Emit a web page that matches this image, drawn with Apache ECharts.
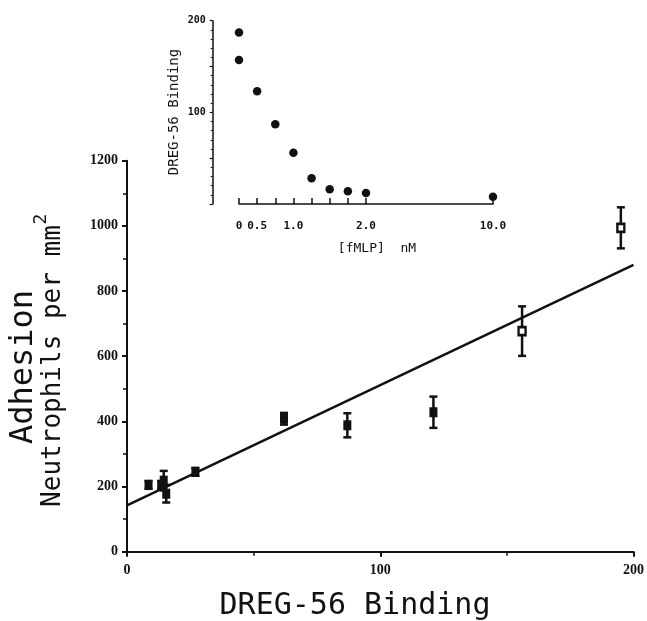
<!DOCTYPE html>
<html>
<head>
<meta charset="utf-8">
<script src="https://cdn.jsdelivr.net/npm/echarts@6/dist/echarts.min.js"></script>
<style>
html,body{margin:0;padding:0;background:#fff;}
#chart{width:647px;height:621px;}
</style>
</head>
<body>
<div id="chart"></div>
<script>
// Main chart data: DREG-56 binding vs adhesion (neutrophils per mm^2)
const mainX = [8.5, 13.5, 14.5, 15.5, 27, 62, 87, 121, 156, 195];
const mainY = [205, 205, 218, 178, 245, 408, 388, 428, 677, 994];
const mainErr = [12, 12, 30, 27, 12, 18, 37, 48, 76, 63];
const openIdx = [8, 9];
// Regression line end points
const fitX = [0, 200];
const fitY = [142, 880];
// Axis ticks
const mainXTicks = [0, 100, 200];
const mainYTicks = [0, 200, 400, 600, 800, 1000, 1200];

// Inset data: [fMLP] nM vs DREG-56 binding
const insetConc = ['0', '0', '0.5', '0.75', '1.0', '1.25', '1.5', '1.75', '2.0', '10.0'];
const insetBinding = [187, 157, 123, 87, 56, 28, 16, 14, 12, 8];
const insetCats = ['0', '0.5', '0.75', '1.0', '1.25', '1.5', '1.75', '2.0', 'g1', 'g2', 'g3', 'g4', 'g5', 'g6', '10.0'];
const insetXLabels = ['0', '0.5', '1.0', '2.0', '10.0'];
const insetYLabels = [100, 200];

const ink = '#111';
const mono = 'DejaVu Sans Mono';
const serif = 'Liberation Serif';

const chart = echarts.init(document.getElementById('chart'));

const errData = mainX.map((x, i) => [x, mainY[i], mainErr[i]]);
const filled = mainX.map((x, i) => [x, mainY[i]]).filter((d, i) => openIdx.indexOf(i) < 0);
const open = mainX.map((x, i) => [x, mainY[i]]).filter((d, i) => openIdx.indexOf(i) >= 0);

const option = {
  animation: false,
  backgroundColor: '#fff',
  grid: [
    {left: 127, right: 10.3, top: 160.7, bottom: 69.3},
    {left: 239, right: 154, top: 20.7, bottom: 417}
  ],
  xAxis: [
    {
      type: 'value', gridIndex: 0, min: 0, max: 200, interval: 100,
      axisLine: {lineStyle: {color: ink, width: 2}},
      axisTick: {show: true, length: 5, lineStyle: {color: ink, width: 2}},
      minorTick: {show: true, splitNumber: 2, length: 4, lineStyle: {color: ink, width: 1.5}},
      splitLine: {show: false},
      axisLabel: {
        margin: 12, color: ink, fontFamily: serif, fontWeight: 'bold', fontSize: 14,
        formatter: v => mainXTicks.indexOf(v) >= 0 ? String(v) : ''
      }
    },
    {
      type: 'category', gridIndex: 1, data: insetCats, boundaryGap: false, offset: 6.7,
      axisLine: {lineStyle: {color: ink, width: 1.5}},
      axisTick: {show: true, inside: true, length: 6, lineStyle: {color: ink, width: 1.5},
        interval: (i, v) => v.charAt(0) !== 'g'},
      splitLine: {show: false},
      axisLabel: {
        margin: 10, color: ink, fontFamily: mono, fontWeight: 'bold', fontSize: 11,
        interval: (i, v) => insetXLabels.indexOf(v) >= 0,
        formatter: v => insetXLabels.indexOf(v) >= 0 ? v : ''
      }
    }
  ],
  yAxis: [
    {
      type: 'value', gridIndex: 0, min: 0, max: 1200, interval: 200,
      axisLine: {show: true, lineStyle: {color: ink, width: 2}},
      axisTick: {show: true, length: 5, lineStyle: {color: ink, width: 2}},
      minorTick: {show: true, splitNumber: 2, length: 4, lineStyle: {color: ink, width: 1.5}},
      splitLine: {show: false},
      axisLabel: {
        margin: 9, color: ink, fontFamily: serif, fontWeight: 'bold', fontSize: 14,
        formatter: v => mainYTicks.indexOf(v) >= 0 ? String(v) : ''
      }
    },
    {
      type: 'value', gridIndex: 1, min: 0, max: 200, interval: 50, offset: 26.3,
      axisLine: {show: true, lineStyle: {color: ink, width: 1.5}},
      axisTick: {show: true, length: 3, lineStyle: {color: ink, width: 1.2}},
      minorTick: {show: true, splitNumber: 5, length: 2, lineStyle: {color: ink, width: 1}},
      splitLine: {show: false},
      axisLabel: {
        margin: 7, color: ink, fontFamily: mono, fontWeight: 'bold', fontSize: 10,
        formatter: v => insetYLabels.indexOf(v) >= 0 ? String(v) : ''
      }
    }
  ],
  series: [
    {
      type: 'line', xAxisIndex: 0, yAxisIndex: 0,
      data: fitX.map((x, i) => [x, fitY[i]]),
      symbol: 'none', lineStyle: {color: ink, width: 2.5}, z: 2
    },
    {
      type: 'custom', xAxisIndex: 0, yAxisIndex: 0, data: errData, z: 3,
      encode: {x: 0, y: 1},
      renderItem: function (params, api) {
        const x = api.value(0), y = api.value(1), e = api.value(2);
        const t = api.coord([x, y + e]);
        const b = api.coord([x, y - e]);
        const hw = 4;
        const st = {stroke: ink, lineWidth: 2.5};
        return {
          type: 'group',
          children: [
            {type: 'line', shape: {x1: t[0], y1: t[1], x2: b[0], y2: b[1]}, style: st},
            {type: 'line', shape: {x1: t[0] - hw, y1: t[1], x2: t[0] + hw, y2: t[1]}, style: st},
            {type: 'line', shape: {x1: b[0] - hw, y1: b[1], x2: b[0] + hw, y2: b[1]}, style: st}
          ]
        };
      }
    },
    {
      type: 'scatter', xAxisIndex: 0, yAxisIndex: 0, data: filled, z: 4,
      symbol: 'rect', symbolSize: [8, 10], itemStyle: {color: ink, opacity: 1}
    },
    {
      type: 'scatter', xAxisIndex: 0, yAxisIndex: 0, data: open, z: 4,
      symbol: 'rect', symbolSize: [7, 8],
      itemStyle: {color: '#fff', borderColor: ink, borderWidth: 2.5, opacity: 1}
    },
    {
      type: 'scatter', xAxisIndex: 1, yAxisIndex: 1,
      data: insetConc.map((c, i) => [c, insetBinding[i]]),
      symbol: 'circle', symbolSize: 8.5, itemStyle: {color: ink, opacity: 1}
    }
  ],
  graphic: [
    {type: 'text', x: 355, y: 606, style: {text: 'DREG-56 Binding', font: '30px "DejaVu Sans Mono"', fill: ink, align: 'center', verticalAlign: 'middle'}},
    {type: 'text', x: 23.5, y: 367, rotation: Math.PI / 2, style: {text: 'Adhesion', font: '32px "DejaVu Sans Mono"', fill: ink, align: 'center', verticalAlign: 'middle'}},
    {type: 'text', x: 53.5, y: 366, rotation: Math.PI / 2, style: {text: 'Neutrophils per mm', font: '26px "DejaVu Sans Mono"', fill: ink, align: 'center', verticalAlign: 'middle'}},
    {type: 'text', x: 41, y: 219, rotation: Math.PI / 2, style: {text: '2', font: '18px "DejaVu Sans Mono"', fill: ink, align: 'center', verticalAlign: 'middle'}},
    {type: 'text', x: 174, y: 112, rotation: Math.PI / 2, style: {text: 'DREG-56 Binding', font: '14px "DejaVu Sans Mono"', fill: ink, align: 'center', verticalAlign: 'middle'}},
    {type: 'text', x: 377, y: 249, style: {text: '[fMLP]  nM', font: '13px "DejaVu Sans Mono"', fill: ink, align: 'center', verticalAlign: 'middle'}}
  ]
};

chart.setOption(option);
</script>
</body>
</html>
